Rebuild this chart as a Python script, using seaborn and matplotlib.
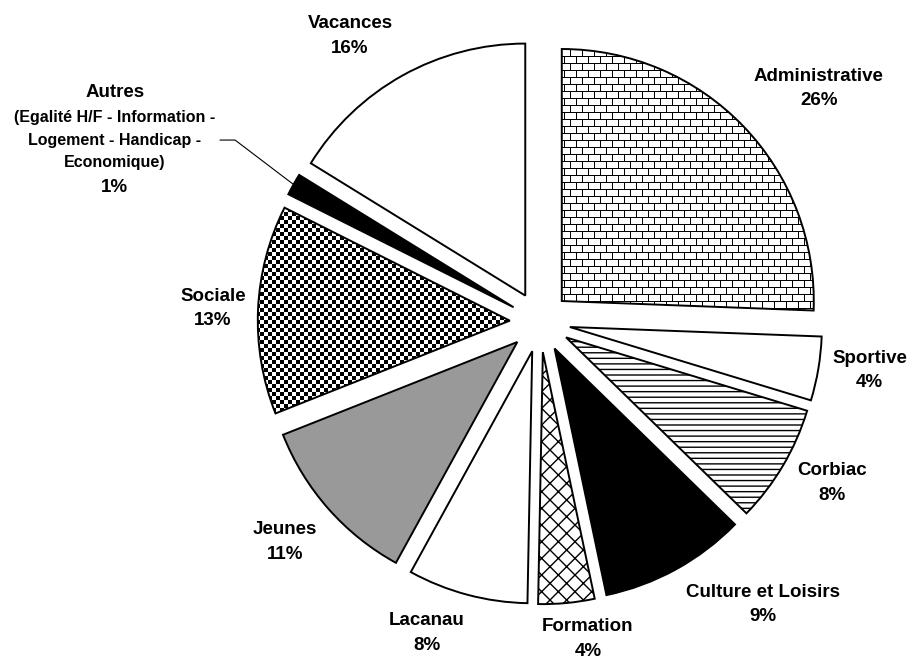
import numpy as np
import matplotlib
matplotlib.use("Agg")
import matplotlib.pyplot as plt
import seaborn as sns

# shares of the budget (%), clockwise from 12 o'clock; labels show them rounded
categories = ["Administrative", "Sportive", "Corbiac", "Culture et Loisirs", "Formation",
              "Lacanau", "Jeunes", "Sociale", "Autres", "Vacances"]
shares = [25.6, 4.1, 7.6, 9.4, 3.6, 7.7, 11.0, 13.4, 1.4, 16.2]
autres_detail = "(Egalité H/F - Information -\nLogement - Handicap -\nEconomique)"

# fill style per wedge: plain colour, hatch, or a pixel texture
fills = ["brick", "white", "white", "black", "white", "white", "#999999", "checker", "black", "white"]
hatches = [None, None, "---", None, "xx", None, None, None, None, None]

# label centres in data units (pie radius = 1)
label_xy = [(1.107, 0.925), (1.308, -0.192), (1.159, -0.639), (0.885, -1.121), (0.190, -1.258),
            (-0.448, -1.234), (-1.012, -0.873), (-1.298, 0.052), (-1.687, 0.722), (-0.754, 1.135)]

W, H, DPI = 909, 659, 100
CX, CY, SCALE = 540, 322, 252  # pixel position of the pie centre, pixels per unit radius

sns.set_style("white")
plt.rcParams["font.family"] = ["Liberation Sans", "DejaVu Sans"]
plt.rcParams["text.color"] = "black"
plt.rcParams["hatch.linewidth"] = 1.0

x0, x1 = -CX / SCALE, (W - CX) / SCALE
y0, y1 = -(H - CY) / SCALE, CY / SCALE

fig = plt.figure(figsize=(W / DPI, H / DPI), dpi=DPI)
ax = fig.add_axes([0, 0, 1, 1])

face = [("none" if f in ("brick", "checker") else f) for f in fills]
wedges, _ = ax.pie(shares, startangle=90, counterclock=False, explode=[0.12] * len(shares),
                   colors=face, wedgeprops=dict(edgecolor="black", linewidth=1.4, zorder=3))

# pixel textures, one cell per figure pixel
yy, xx = np.mgrid[0:H, 0:W]
row = yy // 7
brick = np.ones((H, W))
brick[yy % 7 == 0] = 0
brick[((xx + (row % 2) * 6) % 12 == 0)] = 0
checker = ((xx // 4 + yy // 4) % 2).astype(float)
textures = {"brick": brick, "checker": checker}

for w, f, h in zip(wedges, fills, hatches):
    if h:
        w.set_hatch(h)
    if f in textures:
        im = ax.imshow(textures[f], cmap="gray", vmin=0, vmax=1, extent=(x0, x1, y0, y1),
                       origin="upper", interpolation="nearest", zorder=2)
        im.set_clip_path(w)

txt = dict(ha="center", va="center", fontsize=13.5, fontweight="bold", linespacing=1.55, color="black")
for cat, v, (lx, ly) in zip(categories, shares, label_xy):
    pct = f"{round(v)}%"
    if cat == "Autres":
        ax.text(lx, ly + 0.19, cat, **txt)
        ax.text(lx, ly, autres_detail, ha="center", va="center", fontsize=11.5,
                fontweight="bold", linespacing=1.62, color="black")
        ax.text(lx, ly - 0.19, pct, **txt)
    else:
        ax.text(lx, ly, f"{cat}\n{pct}", **txt)

# leader line for the thin "Autres" slice
wa = wedges[categories.index("Autres")]
mid = np.deg2rad((wa.theta1 + wa.theta2) / 2)
end = (wa.center[0] + wa.r * np.cos(mid), wa.center[1] + wa.r * np.sin(mid))
ax.plot([-1.270, -1.210, end[0]], [0.722, 0.722, end[1]], color="black", lw=0.8, zorder=4)

ax.set_xlim(x0, x1)
ax.set_ylim(y0, y1)
ax.set_aspect("equal")
ax.axis("off")
fig.savefig("out.png", dpi=DPI, facecolor="white")
